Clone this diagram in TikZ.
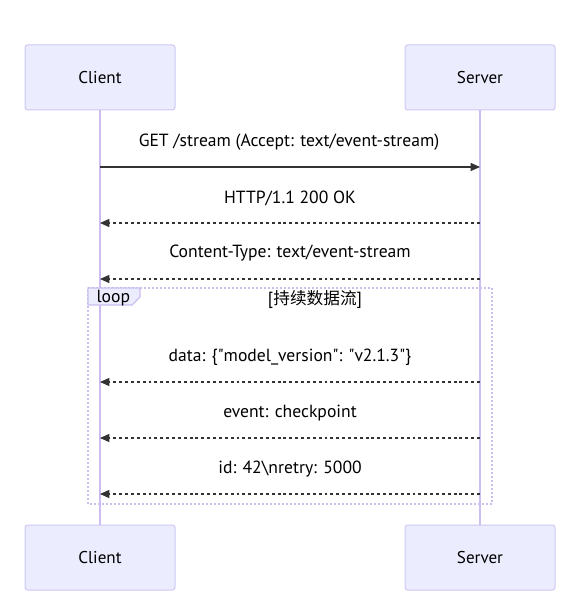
\documentclass[tikz,border=0pt]{standalone}
\usepackage{fontspec}
\setmainfont{PT Sans}
\newfontfamily\cjk{Noto Sans CJK SC}
\usetikzlibrary{arrows.meta}

\definecolor{actorfill}{RGB}{236,236,255}
\definecolor{actorline}{RGB}{206,200,240}
\definecolor{lifeline}{RGB}{204,190,240}
\definecolor{msgline}{RGB}{51,51,51}

\tikzset{every picture/.style={line width=0.75pt},
  actor/.style={draw=actorline,fill=actorfill,rounded corners=2pt,minimum width=112.5pt,minimum height=48.75pt,font=\fontsize{12.8}{15}\selectfont},
  msg/.style={draw=msgline,line width=1pt,-{Triangle[length=7pt,width=6pt]}},
  reply/.style={msg,dash pattern=on 2.2pt off 2.2pt},
  msglabel/.style={inner sep=0.75pt,font=\fontsize{13.2}{15}\selectfont,text=black},
}

\begin{document}
\begin{tikzpicture}[x=0.75pt,y=0.75pt,yscale=-1,xscale=1]
\useasboundingbox (0,0) rectangle (585,609);

%Actors
\node [actor] (clientTop) at (100,77.5) {Client};
\node [actor] (serverTop) at (480,77.5) {Server};
\node [actor] (clientBot) at (100,557.5) {Client};
\node [actor] (serverBot) at (480,557.5) {Server};

%Lifelines
\draw [lifeline,line width=1.2pt] (clientTop.south) -- (clientBot.north);
\draw [lifeline,line width=1.2pt] (serverTop.south) -- (serverBot.north);

%Shape: Loop frame
\draw [lifeline,dash pattern=on 1.5pt off 1.5pt,line width=1pt] (88,288) -- (492,288) -- (492,504) -- (88,504) -- cycle ;
\draw [draw=lifeline,fill=actorfill,line width=0.8pt] (88,288) -- (140,288) -- (140,297) -- (132,305) -- (88,305) -- cycle ;
\node [msglabel,anchor=west] (loopTag) at (95,298) {loop};
\node [msglabel] (loopCond) at (315,300) {[{\cjk\fontsize{12.5}{15}\selectfont 持续数据流}]};

%Message end points
\foreach \n/\y in {1/167,2/223,3/279,4/382,5/438,6/494}{
  \coordinate (c\n) at (100,\y);
  \coordinate (s\n) at (480,\y);
}

%Messages
\draw [msg] (c1) -- (s1);
\draw [reply] (s2) -- (c2);
\draw [reply] (s3) -- (c3);
\draw [reply] (s4) -- (c4);
\draw [reply] (s5) -- (c5);
\draw [reply] (s6) -- (c6);

% Text Node
\node [msglabel] (m1) at (289,142) {GET /stream (Accept: text/event-stream)};
% Text Node
\node [msglabel] (m2) at (290,198) {HTTP/1.1 200 OK};
% Text Node
\node [msglabel] (m3) at (290,253) {Content-Type: text/event-stream};
% Text Node
\node [msglabel] (m4) at (290,357) {data: \{\textquotedbl model\_version\textquotedbl: \textquotedbl v2.1.3\textquotedbl\}};
% Text Node
\node [msglabel] (m5) at (290,413) {event: checkpoint};
% Text Node
\node [msglabel] (m6) at (290,469) {id: 42\textbackslash nretry: 5000};

\end{tikzpicture}
\end{document}
